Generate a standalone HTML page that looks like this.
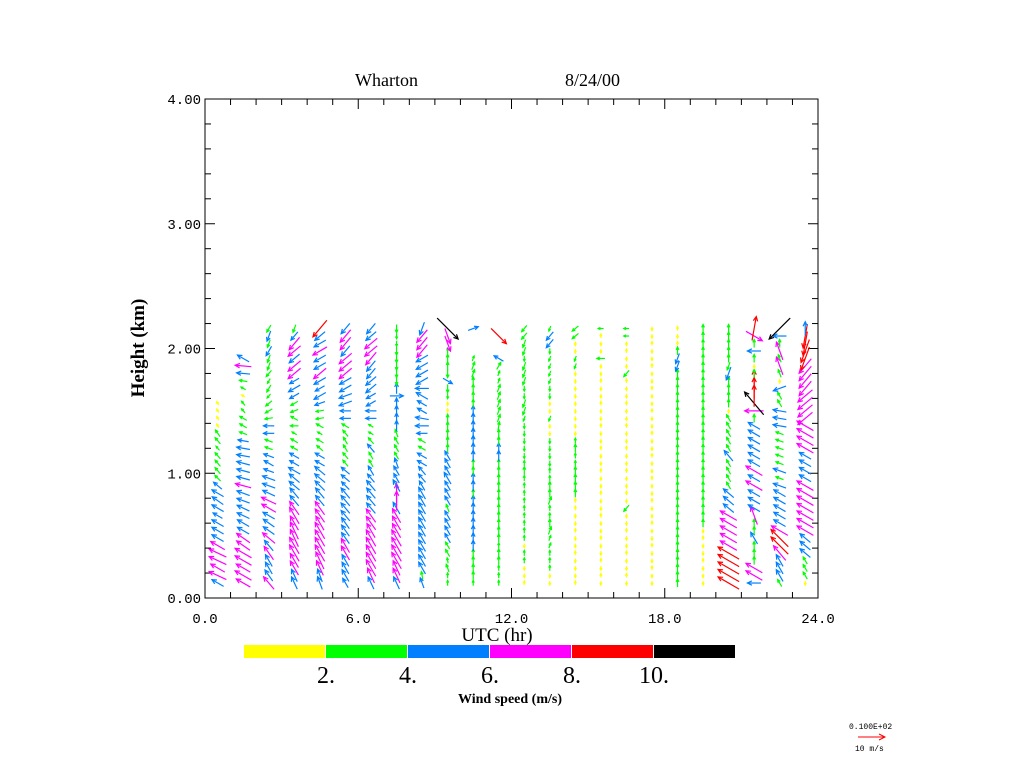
<!DOCTYPE html>
<html><head><meta charset="utf-8">
<style>
html,body{margin:0;padding:0;background:#fff;width:1024px;height:768px;overflow:hidden}
svg{display:block}
text{font-family:"Liberation Serif",serif;fill:#000}
.mono{font-family:"Liberation Mono",monospace}
</style></head>
<body>
<svg id="chart" width="1024" height="768">
<text x="355" y="86" font-size="18">Wharton</text>
<text x="565" y="86" font-size="18">8/24/00</text>
<rect x="205" y="99" width="613" height="499" fill="none" stroke="#000" stroke-width="1"/>
<g id="axes"></g>
<g id="arrows"></g>
<text x="497" y="641" font-size="19" text-anchor="middle">UTC (hr)</text>
<text transform="translate(144,348) rotate(-90)" font-size="19" font-weight="bold" text-anchor="middle">Height (km)</text>
<g id="colorbar"></g>
<text x="510" y="703" font-size="14" font-weight="bold" text-anchor="middle">Wind speed (m/s)</text>
<g>
<text x="849" y="729" font-size="8" class="mono">0.100E+02</text>
<line x1="858" y1="737" x2="885" y2="737" stroke="#f00" stroke-width="1"/>
<polyline points="879,734 885,737 879,740" fill="none" stroke="#f00"/>
<text x="855" y="751" font-size="8" class="mono">10 m/s</text>
</g>
</svg>
<script>
const xTickLabels = ["0.0","6.0","12.0","18.0","24.0"];
const xTickValues = [0,6,12,18,24];
const yTickLabels = ["0.00","1.00","2.00","3.00","4.00"];
const yTickValues = [0,1,2,3,4];
const cbBreaks = [0,2,4,6,8,10,12];
const cbLabels = ["2.","4.","6.","8.","10."];
const cbColors = ["#ffff00","#00ff00","#0080ff","#ff00ff","#ff0000","#000000"];
const hours = [0.5,1.5,2.5,3.5,4.5,5.5,6.5,7.5,8.5,9.5,10.5,11.5,12.5,13.5,14.5,15.5,16.5,17.5,18.5,19.5,20.5,21.5,22.5,23.5];
const heights = [0.12,0.18,0.24,0.30,0.36,0.42,0.48,0.54,0.60,0.66,0.72,0.78,0.84,0.90,0.96,1.02,1.08,1.14,1.20,1.26,1.32,1.38,1.44,1.50,1.56,1.62,1.68,1.74,1.80,1.86,1.92,1.98,2.04,2.10,2.16];
const speeds = [
[5,7,6,7,7,6,5,5,5,4,5,5,5,4,3,3,3,3,2,3,3,1.5,1.5,1.5,1.5],
[6,7,6,7,7,6,6,5,5,5,5,5,5,6,5,5,5,5,5,4,3,3,3,2,2,1.5,2,3,5,6,5],
[6,5,5,5,6,5,6,5,5,5,6,6,5,5,5,4,4,4,3,3,4,4,3,3,3,2,3,2,3,3,3,4,3,4,3],
[5,5,6,6,7,7,7,7,6,7,6,5,5,5,5,5,4,4,3,3,2,3,3,3,3,4,5,4,6,6,5,6,6,4,3],
[5,5,6,7,7,7,7,7,6,6,6,5,5,5,5,5,4,4,3,3,2,3,3,3,4,5,4,5,6,5,5,6,5,5,8],
[4,5,5,5,6,6,5,5,5,5,5,5,5,4,4,4,3,3,3,3,3,3,4,4,5,5,5,5,6,6,6,5,6,6,5],
[5,6,7,7,7,7,7,6,6,6,5,5,5,5,4,4,3,3,4,3,2,2,4,4,4,4,5,5,5,5,6,6,6,5,5],
[5,6,6,7,7,7,7,6,6,6,5,7,7,5,4,4,4,3,3,3,3,4,4,4,4,5,4,3,3,3,3,3,2,2,3],
[4,3,5,5,5,5,5,5,5,5,5,5,5,4,4,4,4,4,3,3,4,5,5,4,4,5,5,5,5,5,5,6,6,6,5],
[2,2,3,2,3,3,4,4,4,4,3,4,4,4,5,4,4,4,3,3,3,3,3,1.5,1.5,2,3,4,3,3,3,2,6,6,11],
[2,3,3,3,3,4,4,4,4,4,4,4,3,4,4,3,3,4,4,4,4,4,4,4,3,3,3,3,3,3,2,0,0,0,4],
[2,2,2,3,3,2,3,3,3,3,3,3,3,3,3,3,3,4,4,3,3,3,3,3,3,3,3,2,2,3,4,0,0,8,0],
[1.5,1.5,1.5,2,2,1.5,2,2,2,2,2,2,2,2,2,3,2,2,2,2,2,2,2,3,3,2,2,3,3,3,2,3,3,3,3],
[1.5,1.5,2,2,2,2,2,3,3,2,2,3,3,3,2,2,2,2,2,2,1.5,1.5,2,1.5,1.5,2,2,2,2,2,2,2,4,4,2],
[1.5,1.5,1.5,1.5,1.5,1.5,1.5,1.5,1.5,1.5,1.5,1.5,3,3,3,3,2,2,3,2,1.5,1.5,1.5,1.5,1.5,1.5,1.5,1.5,1.5,2,2,1.5,1.5,3,3],
[1.5,1.5,1.5,1.5,1.5,1.5,1.5,1.5,1.5,1.5,1.5,1.5,1.5,1.5,1.5,1.5,1.5,1.5,1.5,1.5,1.5,1.5,1.5,1.5,1.5,1.5,1.5,1.5,1.5,1.5,3,1.5,1.5,1.5,2],
[1.5,1.5,1.5,1.5,1.5,1.5,1.5,1.5,1.5,1.5,3,1.5,1.5,1.5,1.5,1.5,1.5,1.5,1.5,1.5,1.5,1.5,1.5,1.5,1.5,1.5,1.5,1.5,3,1.5,1.5,1.5,1.5,2,2],
[1.5,1.5,1.5,1.5,1.5,1.5,1.5,1.5,1.5,1.5,1.5,1.5,1.5,1.5,1.5,1.5,1.5,1.5,1.5,1.5,1.5,1.5,1.5,1.5,1.5,1.5,1.5,1.5,1.5,1.5,1.5,1.5,1.5,1.5,1.5],
[3,3,3,3,3,3,3,3,3,3,3,3,3,3,3,3,3,3,3,3,3,3,3,3,3,3,3,3,3,4,4,3,1.5,1.5,1.5],
[1.5,1.5,1.5,1.5,1.5,1.5,1.5,1.5,3,3,3,3,3,3,3,3,3,3,3,3,3,3,3,3,3,3,3,3,3,3,3,3,3,3,3],
[9,9,9,9,9,7,7,7,7,7,5,5,5,3,3,3,3,5,3,3,3,3,3,1.5,3,3,3,3,5,3,3,3,3,3,3],
[5,7,7,3,3,3,5,3,3,7,5,5,5,7,5,7,5,5,5,5,5,5,3,7,11,8,8,8,3,1.5,3,5,3,7,9],
[3,5,5,5,7,9,9,7,5,5,5,5,5,5,3,5,3,3,3,3,3,5,5,5,3,3,5,1.5,3,7,3,7,3,5,11],
[1.5,3,3,3,5,5,5,7,7,7,7,7,7,7,5,5,5,5,7,7,7,7,7,7,7,7,7,7,7,7,9,9,9,9,5]
];
const dirs = [
[300,295,300,295,295,300,300,300,300,300,300,305,300,310,315,320,320,320,320,320,325,330,330,330,330],
[300,300,300,300,300,305,305,300,300,295,295,290,290,285,285,285,285,280,280,280,290,300,300,320,320,300,300,280,275,275,300],
[320,325,330,330,325,320,310,305,305,300,300,295,295,290,290,290,300,290,290,290,270,270,260,240,230,220,210,210,220,200,200,210,200,200,210],
[335,335,330,330,330,330,335,335,330,330,325,320,320,310,310,300,300,300,300,300,300,270,300,250,240,240,240,240,230,230,230,230,220,220,200],
[340,340,335,335,330,330,330,330,330,325,325,320,320,315,310,310,300,300,310,300,300,300,260,260,250,240,240,240,230,240,240,240,240,230,220],
[330,330,330,330,330,330,325,325,325,320,320,320,320,315,310,310,320,320,330,330,320,300,270,270,250,250,240,240,230,230,230,220,220,220,220],
[335,335,330,330,330,330,330,330,325,325,320,320,320,320,320,330,330,330,320,320,300,300,270,270,240,240,230,230,220,220,220,230,230,230,220],
[335,335,335,330,330,330,330,330,330,330,330,0,0,330,330,330,340,330,330,330,340,0,0,0,0,90,0,180,180,180,180,180,180,180,180],
[340,350,330,330,330,330,330,330,330,330,330,330,330,330,320,320,300,300,300,300,270,270,280,300,300,300,270,240,240,240,240,220,220,220,200],
[0,0,340,350,330,330,330,330,330,330,340,330,330,330,330,330,330,330,0,0,0,0,0,0,180,180,180,120,180,0,0,0,160,160,135],
[0,0,0,0,0,0,0,0,0,0,0,0,0,0,0,0,0,0,0,0,0,0,0,0,0,0,0,0,20,20,20,0,0,0,70],
[0,0,0,0,0,0,0,0,0,0,0,0,0,0,0,0,0,0,0,0,0,10,20,20,20,20,20,20,20,30,300,0,0,135,0],
[0,180,180,0,0,180,0,0,0,0,0,0,0,0,0,0,0,180,180,180,180,180,200,200,200,180,180,200,200,200,180,200,200,220,220],
[180,180,0,0,0,20,20,20,0,0,0,20,0,0,0,0,180,180,180,180,180,180,200,180,180,180,180,200,200,200,200,180,220,220,200],
[0,180,180,180,0,180,180,0,180,180,0,0,0,0,0,0,0,0,0,0,180,180,180,180,180,180,180,180,180,200,200,180,180,230,230],
[180,0,180,0,180,180,0,180,180,0,180,180,0,180,180,0,180,180,0,180,180,0,180,180,0,180,180,0,180,180,270,180,180,0,270],
[180,0,180,180,0,180,180,0,180,180,220,180,0,180,180,0,180,180,0,180,180,0,180,180,0,180,180,0,220,180,180,0,180,270,270],
[180,180,0,180,180,0,180,180,0,180,180,0,180,180,0,180,180,0,180,180,0,180,180,0,180,180,0,180,180,0,180,180,0,180,180],
[0,0,0,0,0,0,0,0,0,0,0,0,0,0,0,0,0,0,0,0,0,0,0,0,0,0,0,0,0,200,200,0,0,180,0],
[180,180,180,0,180,180,0,180,0,0,0,0,0,0,0,0,0,0,0,0,0,0,0,0,0,0,0,0,0,0,0,0,0,0,0],
[300,300,300,300,300,300,300,300,300,300,310,310,310,330,330,330,330,320,330,330,330,330,330,180,0,0,0,0,200,200,0,0,0,0,0],
[270,300,300,0,0,0,330,0,0,340,300,300,300,300,300,300,300,300,300,300,300,300,0,270,320,0,0,0,0,180,0,270,0,120,10],
[330,330,330,330,320,315,315,300,300,300,300,300,300,290,290,290,290,290,290,290,290,280,280,280,330,330,250,180,340,340,340,340,0,270,225],
[180,330,330,330,310,310,310,300,300,300,300,300,300,300,300,300,300,300,300,300,300,300,230,230,230,230,220,220,220,220,200,200,190,190,0]
];
const NS="http://www.w3.org/2000/svg";
const X0=205,X1=818,Y0=598,Y1=99;
function xScale(h){return X0+(X1-X0)*h/24;}
function yScale(km){return Y0-(Y0-Y1)*km/4;}
function mk(tag,attrs,parent){const e=document.createElementNS(NS,tag);for(const k in attrs)e.setAttribute(k,attrs[k]);parent.appendChild(e);return e;}
function colorFor(s){for(let i=0;i<cbColors.length;i++){if(s<cbBreaks[i+1])return cbColors[i];}return cbColors[cbColors.length-1];}
const axes=document.getElementById('axes');
for(let h=0;h<=24;h++){
  const x=xScale(h),len=(h%6===0)?10:6;
  const t1=mk('line',{x1:x,y1:Y0,x2:x,y2:Y0-len,stroke:'#000'},axes);
  
  
  mk('line',{x1:x,y1:Y1,x2:x,y2:Y1+len,stroke:'#000'},axes);
}
xTickValues.forEach((v,i)=>{
  const t=mk('text',{x:xScale(v),y:623,'font-size':14,'text-anchor':'middle','class':'mono'},axes);
  t.textContent=xTickLabels[i];
  
  
});
for(let k=0;k<=20;k++){
  const km=k*0.2,y=yScale(km),len=(k%5===0)?10:6;
  const t1=mk('line',{x1:X0,y1:y,x2:X0+len,y2:y,stroke:'#000'},axes);
  
  
  mk('line',{x1:X1,y1:y,x2:X1-len,y2:y,stroke:'#000'},axes);
}
yTickValues.forEach((v,i)=>{
  const t=mk('text',{x:201,y:yScale(v)+5,'font-size':14,'text-anchor':'end','class':'mono'},axes);
  t.textContent=yTickLabels[i];
  
  
});
const ag=document.getElementById('arrows');
const PX_PER_MS=2.7;
hours.forEach((h,c)=>{
  const sp=speeds[c],dr=dirs[c];
  for(let r=0;r<sp.length;r++){
    const s=sp[r]; if(!s) continue;
    const d=dr[r]*Math.PI/180;
    const cx=xScale(h),cy=yScale(heights[r]);
    const L=s*PX_PER_MS;
    const ux=Math.sin(d),uy=-Math.cos(d);
    const x=cx-ux*L/2,y=cy-uy*L/2;
    const hx=cx+ux*L/2,hy=cy+uy*L/2;
    const col=colorFor(s);
    const g=mk('g',{stroke:col,fill:'none','stroke-width':1.2},ag);
    
    
    mk('line',{x1:x,y1:y,x2:hx,y2:hy},g);
    const hl=Math.min(5,Math.max(2.5,L*0.4));
    const a1=Math.atan2(-uy,-ux);
    const p1x=hx+hl*Math.cos(a1+0.45),p1y=hy+hl*Math.sin(a1+0.45);
    const p2x=hx+hl*Math.cos(a1-0.45),p2y=hy+hl*Math.sin(a1-0.45);
    mk('polyline',{points:`${p1x},${p1y} ${hx},${hy} ${p2x},${p2y}`},g);
  }
});
const cb=document.getElementById('colorbar');
const CB0=244,CBW=82;
cbColors.forEach((c,i)=>{
  const r=mk('rect',{x:CB0+i*CBW,y:645,width:CBW-1,height:13,fill:c},cb);
  
  
});
cbLabels.forEach((l,i)=>{
  const t=mk('text',{x:CB0+(i+1)*CBW,y:683,'font-size':24,'text-anchor':'middle'},cb);
  t.textContent=l;
  
  
});
</script>
</body></html>
